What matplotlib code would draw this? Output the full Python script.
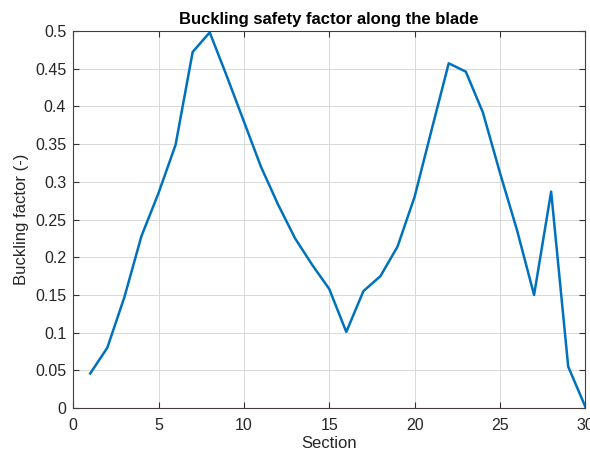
import matplotlib.pyplot as plt
import numpy as np

plt.rcParams['font.family'] = ['Liberation Sans', 'DejaVu Sans']

# Buckling factor per blade section
section = np.arange(1, 31)
buckling = [0.046, 0.080, 0.147, 0.228, 0.285, 0.349, 0.472, 0.498, 0.440, 0.380,
            0.320, 0.270, 0.225, 0.190, 0.158, 0.101, 0.155, 0.175, 0.214, 0.280,
            0.369, 0.457, 0.446, 0.392, 0.312, 0.236, 0.150, 0.287, 0.055, 0.002]

fig = plt.figure(figsize=(5.9, 4.54), dpi=100)
ax = fig.add_axes([0.124, 0.101, 0.868, 0.831])

ax.plot(section, buckling, color=(0, 0.447, 0.741), linewidth=1.8)

ax.set_xlim(0, 30)
ax.set_ylim(0, 0.5)
ax.set_xticks(np.arange(0, 31, 5))
ax.set_yticks(np.arange(0, 0.51, 0.05))
ax.set_yticklabels(['0', '0.05', '0.1', '0.15', '0.2', '0.25', '0.3', '0.35', '0.4', '0.45', '0.5'])

ax.grid(True, color='#d8d8d8', linewidth=0.7)
ax.set_axisbelow(True)
ax.tick_params(direction='in', top=True, right=True, length=4, labelsize=11.5,
               colors='#333333', labelcolor='#262626')
ax.tick_params(axis='x', pad=7)
ax.tick_params(axis='y', pad=5)
for s in ax.spines.values():
    s.set_color('#4a3c3c')
    s.set_linewidth(0.8)

ax.set_title('Buckling safety factor along the blade', fontsize=12, fontweight='bold', pad=5)
ax.set_xlabel('Section', fontsize=12, color='#262626', labelpad=2)
ax.set_ylabel('Buckling factor (-)', fontsize=12, color='#262626', labelpad=4)

fig.savefig('out.png', dpi=100)
